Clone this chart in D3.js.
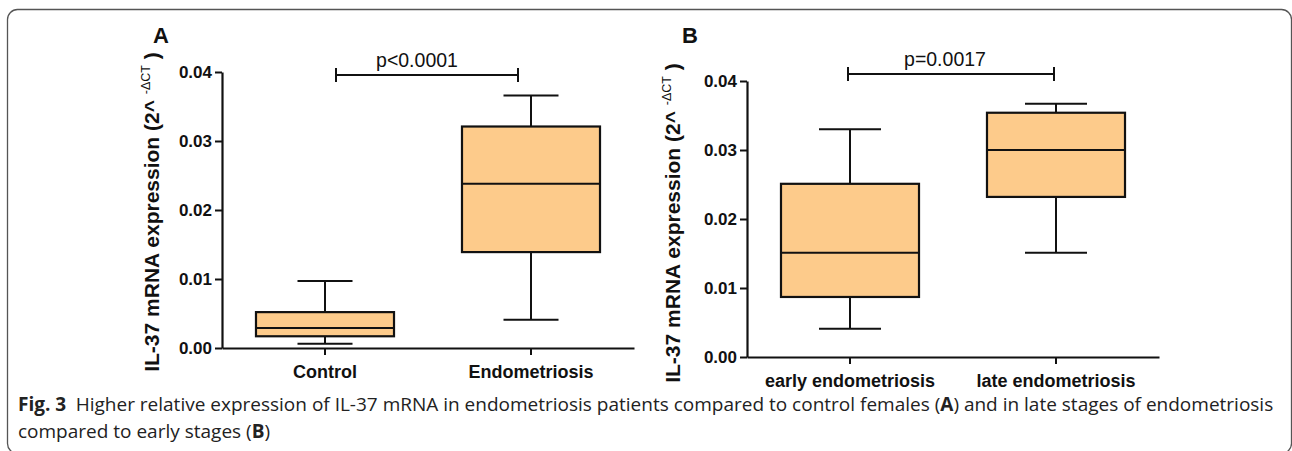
<!DOCTYPE html>
<html>
<head>
<meta charset="utf-8">
<script src="https://cdn.jsdelivr.net/npm/d3@7"></script>
<style>
  html, body { margin: 0; padding: 0; background: #fff; }
  svg { display: block; }
</style>
</head>
<body>
<div class="canvas"></div>
<script>
// sizes
const w = 1292;
const h = 451;
const boxFill = "#fdcb8b";
const font = "'Liberation Sans', Arial, sans-serif";

// panel A data
const catsA = ["Control", "Endometriosis"];
const lowA = [0.0006, 0.0041];
const q1A = [0.0017, 0.0139];
const medA = [0.0029, 0.0238];
const q3A = [0.0052, 0.0321];
const highA = [0.0097, 0.0366];

// panel B data
const catsB = ["early endometriosis", "late endometriosis"];
const lowB = [0.0041, 0.0151];
const q1B = [0.0087, 0.0232];
const medB = [0.0151, 0.0300];
const q3B = [0.0251, 0.0354];
const highB = [0.0330, 0.0367];

// shared y ticks
const yTicks = [0, 0.01, 0.02, 0.03, 0.04];
const yDomain = [0, 0.04];

const svg = d3.select(".canvas").append("svg").attr("width", w).attr("height", h);

// rounded frame round the figure
svg.append("rect")
  .attr("x", 7.5).attr("y", 9.5)
  .attr("width", 1284).attr("height", 444)
  .attr("rx", 10).attr("ry", 10)
  .attr("fill", "none")
  .attr("stroke", "#555")
  .attr("stroke-width", 1.3);

function drawPanel(p) {
  const g = svg.append("g");
  const y = d3.scaleLinear().domain(yDomain).range([p.y0, p.y1]);
  const x = d3.scaleBand().domain(p.cats).range([p.x0, p.x1]);
  const boxW = x.bandwidth() * 0.67;

  // boxes
  const rows = p.cats.map((c, i) => ({ c, lo: p.low[i], q1: p.q1[i], med: p.med[i], q3: p.q3[i], hi: p.high[i] }));
  const box = g.selectAll("g.box").data(rows).enter().append("g").attr("class", "box");
  const cx = d => x(d.c) + x.bandwidth() / 2;

  // whisker stems
  box.append("line")
    .attr("x1", cx).attr("x2", cx)
    .attr("y1", d => y(d.hi)).attr("y2", d => y(d.lo))
    .attr("stroke", "#111").attr("stroke-width", 2);
  box.append("rect")
    .attr("x", d => cx(d) - boxW / 2)
    .attr("y", d => y(d.q3))
    .attr("width", boxW)
    .attr("height", d => y(d.q1) - y(d.q3))
    .attr("fill", boxFill)
    .attr("stroke", "#111").attr("stroke-width", 2.2);
  box.append("line")
    .attr("x1", d => cx(d) - boxW / 2).attr("x2", d => cx(d) + boxW / 2)
    .attr("y1", d => y(d.med)).attr("y2", d => y(d.med))
    .attr("stroke", "#111").attr("stroke-width", 2);
  // caps
  ["hi", "lo"].forEach(k => {
    box.append("line")
      .attr("x1", d => cx(d) - p.capW / 2).attr("x2", d => cx(d) + p.capW / 2)
      .attr("y1", d => y(d[k])).attr("y2", d => y(d[k]))
      .attr("stroke", "#111").attr("stroke-width", 2);
  });

  // axes
  const yAxis = d3.axisLeft(y).tickValues(yTicks).tickFormat(d3.format(".2f")).tickSize(7).tickSizeOuter(0).tickPadding(3);
  const ya = g.append("g").attr("transform", `translate(${p.x0},0)`).call(yAxis);
  const xAxis = d3.axisBottom(x).tickSize(7).tickSizeOuter(0).tickPadding(6);
  const xa = g.append("g").attr("transform", `translate(0,${p.y0})`).call(xAxis);
  [ya, xa].forEach(a => {
    a.select(".domain").attr("stroke", "#111").attr("stroke-width", 2.2);
    a.selectAll(".tick line").attr("stroke", "#111").attr("stroke-width", 2);
    a.selectAll("text").attr("fill", "#111").attr("font-family", font).attr("font-weight", "bold");
  });
  ya.selectAll("text").attr("font-size", 17).attr("dy", "0.34em");
  xa.selectAll("text").attr("font-size", 18).attr("dy", "0.95em");

  // significance bracket
  const bx1 = cx(rows[0]) + p.brL, bx2 = cx(rows[1]) + p.brR;
  const br = g.append("g").attr("stroke", "#111").attr("stroke-width", 2);
  br.append("line").attr("x1", bx1).attr("x2", bx2).attr("y1", p.brY).attr("y2", p.brY);
  br.append("line").attr("x1", bx1).attr("x2", bx1).attr("y1", p.brY - 7).attr("y2", p.brY + 7);
  br.append("line").attr("x1", bx2).attr("x2", bx2).attr("y1", p.brY - 7).attr("y2", p.brY + 7);
  g.append("text")
    .attr("x", (bx1 + bx2) / 2 + p.pDx).attr("y", p.brY - 8)
    .attr("text-anchor", "middle")
    .attr("font-family", font).attr("font-size", 19.5).attr("fill", "#111")
    .text(p.pText);

  // y label
  const lab = g.append("text")
    .attr("transform", `translate(${p.labX},${p.labY}) rotate(-90)`)
    .attr("text-anchor", "middle")
    .attr("font-family", font).attr("font-size", 21).attr("font-weight", "bold").attr("fill", "#111");
  lab.append("tspan").text("IL-37 mRNA expression (2^ ");
  lab.append("tspan").attr("font-size", 12.5).attr("font-weight", "normal").attr("dy", -9).text(" -\u0394CT");
  lab.append("tspan").attr("dy", 9).text(" )");

  // panel letter
  g.append("text")
    .attr("x", p.letX).attr("y", 43)
    .attr("font-family", font).attr("font-size", 22).attr("font-weight", "bold").attr("fill", "#111")
    .text(p.letter);
}

drawPanel({
  cats: catsA, low: lowA, q1: q1A, med: medA, q3: q3A, high: highA,
  x0: 222, x1: 634, y0: 348, y1: 72, capW: 55,
  brY: 75, brL: 11, brR: -13, pText: "p<0.0001", pDx: -10,
  labX: 159, labY: 212, letter: "A", letX: 153
});

drawPanel({
  cats: catsB, low: lowB, q1: q1B, med: medB, q3: q3B, high: highB,
  x0: 747, x1: 1159, y0: 357, y1: 81, capW: 62,
  brY: 74, brL: -2, brR: -2, pText: "p=0.0017", pDx: -6,
  labX: 680, labY: 223, letter: "B", letX: 682
});

// caption
const capFont = "'Open Sans', 'Noto Sans', sans-serif";
const cap1 = svg.append("text").attr("x", 18).attr("y", 411)
  .attr("font-family", capFont).attr("font-size", 19).attr("fill", "#222");
cap1.append("tspan").attr("font-weight", "bold").text("Fig. 3");
cap1.append("tspan").text("\u2002Higher relative expression of IL-37 mRNA in endometriosis patients compared to control females (");
cap1.append("tspan").attr("font-weight", "bold").text("A");
cap1.append("tspan").text(") and in late stages of endometriosis");
const cap2 = svg.append("text").attr("x", 18).attr("y", 438)
  .attr("font-family", capFont).attr("font-size", 19).attr("fill", "#222");
cap2.append("tspan").text("compared to early stages (");
cap2.append("tspan").attr("font-weight", "bold").text("B");
cap2.append("tspan").text(")");
</script>
</body>
</html>
